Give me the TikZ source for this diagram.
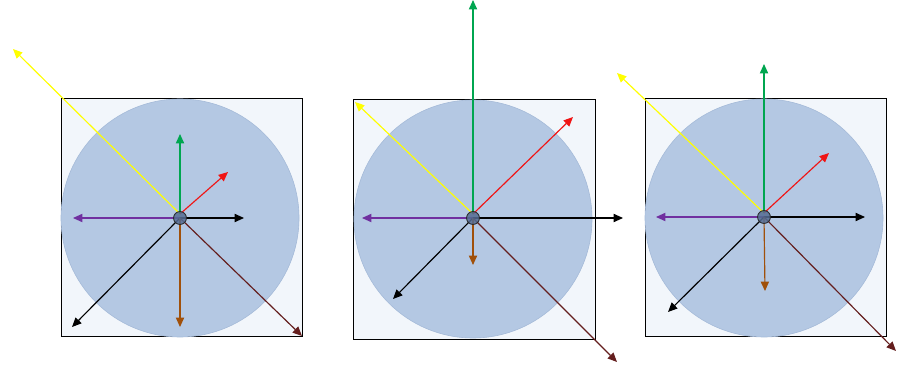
\documentclass[tikz,border=0pt]{standalone}
\usetikzlibrary{arrows.meta}
\definecolor{sqfill}{RGB}{242,246,251}
\definecolor{discfill}{RGB}{180,200,227}
\definecolor{discedge}{RGB}{165,186,216}
\definecolor{hubfill}{RGB}{84,108,146}
\definecolor{cYellow}{RGB}{255,255,0}
\definecolor{cGreen}{RGB}{0,166,80}
\definecolor{cRed}{RGB}{240,20,20}
\definecolor{cPurple}{RGB}{112,48,160}
\definecolor{cBrown}{RGB}{160,80,10}
\definecolor{cMaroon}{RGB}{100,30,30}
\tikzset{
  box/.style={draw=black, fill=sqfill, line width=0.8pt},
  disc/.style={draw=discedge, fill=discfill, line width=0.5pt},
  hub/.style={circle, draw=black!85, fill=hubfill, fill opacity=0.85, line width=0.7pt, minimum size=11pt, inner sep=0pt},
  vec/.style={line width=1pt, -{Triangle[length=8pt,width=7pt]}},
}
\begin{document}
\begin{tikzpicture}[x=0.03cm,y=-0.03cm]
\useasboundingbox (0,0) rectangle (897,369);
% ---------- panel 1 ----------
\draw[box] (61,98) rectangle (302,336);
\fill[disc] (180,218) circle (119);
\coordinate (c1) at (180,218);
\coordinate (u1) at (180,214);
\coordinate (y1) at (13,49);
\coordinate (g1) at (180,134);
\coordinate (r1) at (228,172);
\coordinate (e1) at (244,218);
\coordinate (p1) at (73,218);
\coordinate (d1) at (72,327);
\coordinate (b1) at (180,327);
\coordinate (m1) at (302,336);
\draw[vec,cYellow] (u1) -- (y1);
\draw[vec,cGreen] (u1) -- (g1);
\draw[vec,cRed] (u1) -- (r1);
\draw[vec,black] (c1) -- (e1);
\draw[vec,cPurple] (c1) -- (p1);
\draw[vec,black] (c1) -- (d1);
\draw[vec,cBrown] (c1) -- (b1);
\draw[vec,cMaroon] (c1) -- (m1);
\node[hub] (h1) at (c1) {};
% ---------- panel 2 ----------
\draw[box] (353,99) rectangle (595,339);
\fill[disc] (473,219) circle (119);
\coordinate (c2) at (473,218);
\coordinate (u2) at (473,214);
\coordinate (y2) at (355,102);
\coordinate (g2) at (473,0);
\coordinate (r2) at (573,117);
\coordinate (e2) at (623,218);
\coordinate (p2) at (362,218);
\coordinate (d2) at (393,299);
\coordinate (b2) at (473,265);
\coordinate (m2) at (617,362);
\draw[vec,cYellow] (u2) -- (y2);
\draw[vec,cGreen] (u2) -- (g2);
\draw[vec,cRed] (u2) -- (r2);
\draw[vec,black] (c2) -- (e2);
\draw[vec,cPurple] (c2) -- (p2);
\draw[vec,black] (c2) -- (d2);
\draw[vec,cBrown] (c2) -- (b2);
\draw[vec,cMaroon] (c2) -- (m2);
\node[hub] (h2) at (c2) {};
% ---------- panel 3 ----------
\draw[box] (645,98) rectangle (886,336);
\fill[disc] (764,218) circle (119);
\coordinate (c3) at (764,217);
\coordinate (u3) at (764,213);
\coordinate (y3) at (617,73);
\coordinate (g3) at (764,64);
\coordinate (r3) at (829,153);
\coordinate (e3) at (865,217);
\coordinate (p3) at (656,217);
\coordinate (d3) at (668,312);
\coordinate (b3) at (765,291);
\coordinate (m3) at (896,351);
\draw[vec,cYellow] (u3) -- (y3);
\draw[vec,cGreen] (u3) -- (g3);
\draw[vec,cRed] (u3) -- (r3);
\draw[vec,black] (c3) -- (e3);
\draw[vec,cPurple] (c3) -- (p3);
\draw[vec,black] (c3) -- (d3);
\draw[vec,cBrown] (c3) -- (b3);
\draw[vec,cMaroon] (c3) -- (m3);
\node[hub] (h3) at (c3) {};
\end{tikzpicture}
\end{document}
